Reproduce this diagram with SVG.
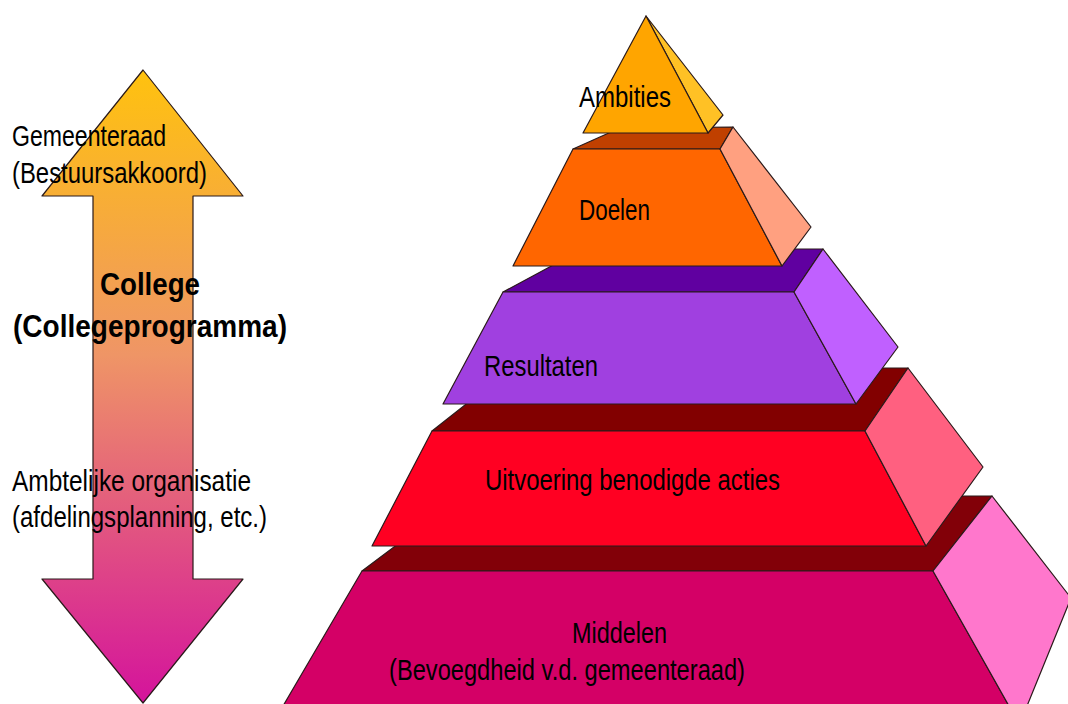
<svg xmlns="http://www.w3.org/2000/svg" width="1068" height="704" viewBox="0 0 1068 704">
  <defs>
    <linearGradient id="arrowGrad" x1="0" y1="70" x2="0" y2="703" gradientUnits="userSpaceOnUse">
      <stop offset="0" stop-color="#FFC20E"/>
      <stop offset="0.45" stop-color="#EF9566"/>
      <stop offset="1" stop-color="#D4139C"/>
    </linearGradient>
  </defs>
  <style>
    text { font-family: "Liberation Sans Narrow", "Liberation Sans", Arial, sans-serif; font-size: 29px; fill: #000; }
    .b { font-weight: bold; font-size: 31px; }
    .edge { stroke: #2a1a1a; stroke-width: 1.2; stroke-linejoin: round; }
  </style>
  <rect width="1068" height="704" fill="#ffffff"/>

  <g id="double-arrow">
    <path class="edge" fill="url(#arrowGrad)" d="M143,70 L243,196 L193,196 L193,579 L243,579 L143,703 L42,579 L93,579 L93,196 L42,196 Z"/>
    <text x="12" y="146" textLength="154" lengthAdjust="spacingAndGlyphs">Gemeenteraad</text>
    <text x="12" y="183" textLength="195" lengthAdjust="spacingAndGlyphs">(Bestuursakkoord)</text>
    <text class="b" x="100" y="295" textLength="100" lengthAdjust="spacingAndGlyphs">College</text>
    <text class="b" x="13" y="337" textLength="274" lengthAdjust="spacingAndGlyphs">(Collegeprogramma)</text>
    <text x="12" y="491" textLength="239" lengthAdjust="spacingAndGlyphs">Ambtelijke organisatie</text>
    <text x="12" y="527" textLength="255" lengthAdjust="spacingAndGlyphs">(afdelingsplanning, etc.)</text>
  </g>

  <g id="middelen">
    <polygon class="edge" fill="#820008" points="362,571 462,496 992,496 933,571"/>
    <polygon class="edge" fill="#D40066" points="362,571 933,571 1009,706 283,706"/>
    <polygon class="edge" fill="#FF77CC" points="933,571 992,496 1071,598 1027,706 1009,706"/>
    <text x="572" y="643" textLength="95" lengthAdjust="spacingAndGlyphs">Middelen</text>
    <text x="389" y="680" textLength="356" lengthAdjust="spacingAndGlyphs">(Bevoegdheid v.d. gemeenteraad)</text>
  </g>

  <g id="uitvoering">
    <polygon class="edge" fill="#820000" points="432,431 512,368 908,368 865,431"/>
    <polygon class="edge" fill="#FF0022" points="432,431 865,431 926,546 372,546"/>
    <polygon class="edge" fill="#FF6080" points="865,431 908,368 983,467 926,546"/>
    <text x="485" y="490" textLength="295" lengthAdjust="spacingAndGlyphs">Uitvoering benodigde acties</text>
  </g>

  <g id="resultaten">
    <polygon class="edge" fill="#6000A0" points="503,292 583,249 823,249 794,292"/>
    <polygon class="edge" fill="#A040E0" points="503,292 794,292 856,404 443,404"/>
    <polygon class="edge" fill="#C060FF" points="794,292 823,249 898,347 856,404"/>
    <text x="484" y="376" textLength="114" lengthAdjust="spacingAndGlyphs">Resultaten</text>
  </g>

  <g id="doelen">
    <polygon class="edge" fill="#C04000" points="573,149 620,128 733,127 720,149"/>
    <polygon class="edge" fill="#FF6600" points="573,149 720,149 782,266 513,266"/>
    <polygon class="edge" fill="#FFA080" points="720,149 733,127 811,227 782,266"/>
    <text x="579" y="220" textLength="71" lengthAdjust="spacingAndGlyphs">Doelen</text>
  </g>

  <g id="ambities">
    <polygon class="edge" fill="#FFC125" points="646,16 723,115 708,133"/>
    <polygon class="edge" fill="#FFA500" points="646,16 708,133 583,133"/>
    <text x="579" y="107" textLength="92" lengthAdjust="spacingAndGlyphs">Ambities</text>
  </g>

  <g id="connectors"/>
</svg>
